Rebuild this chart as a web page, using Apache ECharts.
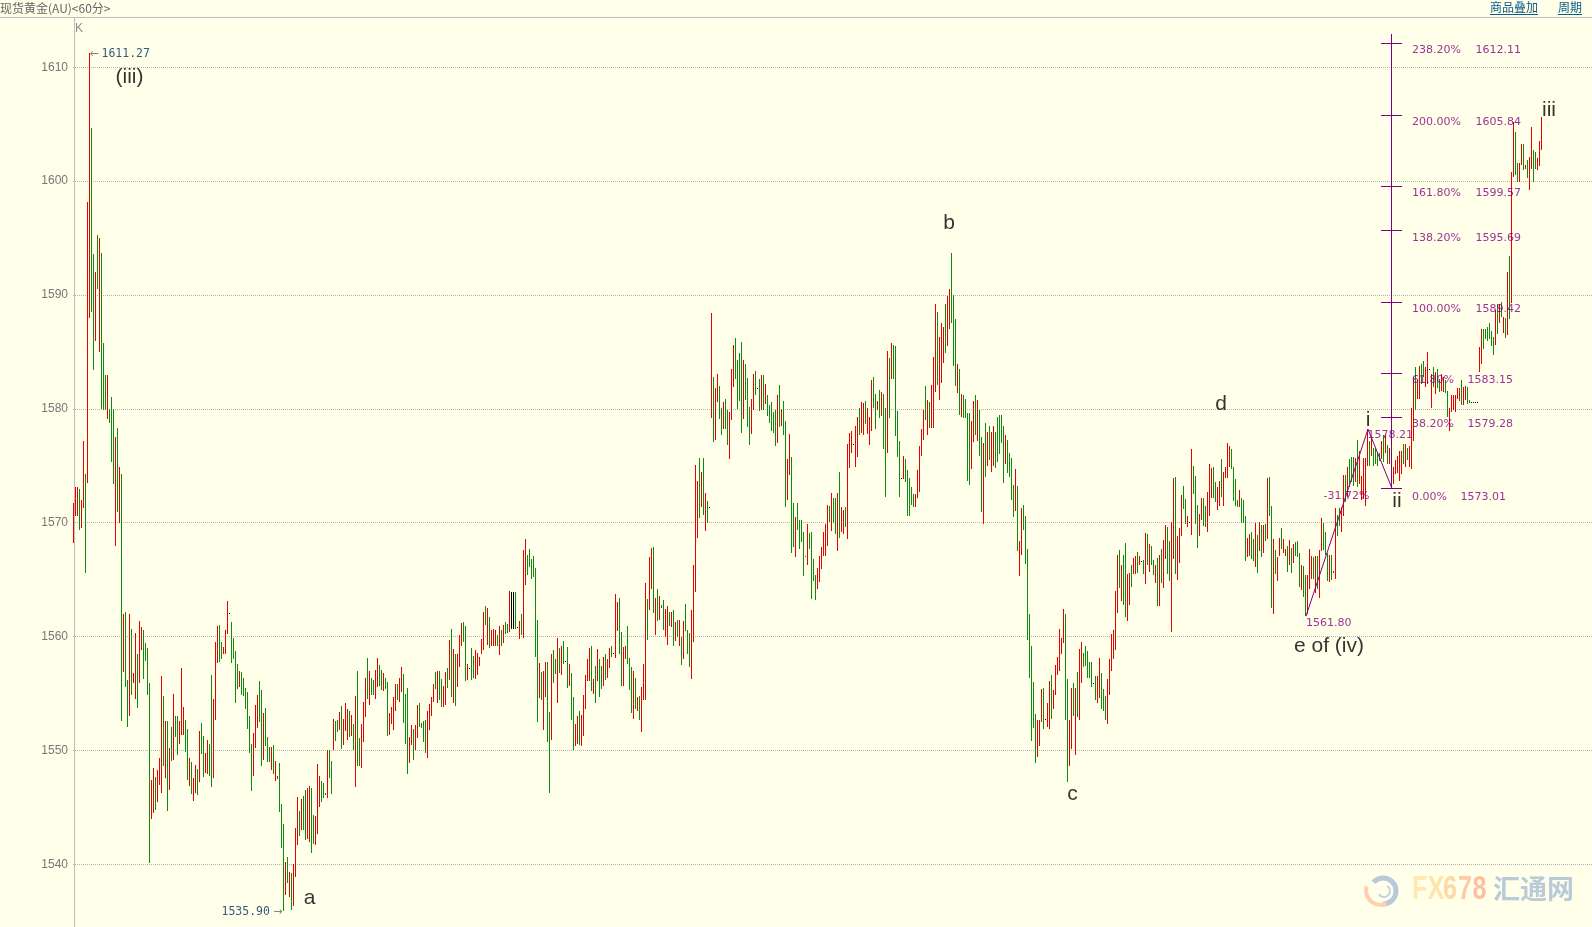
<!DOCTYPE html>
<html><head><meta charset="utf-8">
<style>html,body{margin:0;padding:0;background:#FFFFEA;overflow:hidden}#c{width:1592px;height:927px}</style>
<script src="https://cdn.jsdelivr.net/npm/echarts@6/dist/echarts.min.js"></script>
</head><body><div id="c"></div>
<script>
const highs=[
1571.7,1573.1,1573.1,1573,1572,1577.2,1574.3,1598.2,1611.27,1604.7,
1593.6,1592,1595.3,1595,1593.7,1585.8,1583,1583,1580,1581,
1580,1577.5,1578.3,1574.9,1574.3,1562,1562.2,1556.2,1562,1560.7,
1556.8,1560.3,1558.5,1561.4,1560.8,1560.6,1559.4,1559,1555.9,1547.4,
1548.5,1547.7,1548.3,1549.3,1556.5,1554.8,1552.6,1552.6,1550.2,1552.1,
1555,1553,1553,1552.6,1557.2,1553.8,1552.7,1551.9,1549.3,1549,
1547.6,1548.7,1548.4,1551.7,1552.4,1551.3,1549.8,1550.9,1550.6,1556.6,
1554.5,1559.5,1560.9,1561,1559.5,1559.1,1560.6,1563.1,1562.1,1561.3,
1559.9,1558.7,1557.6,1557,1556.9,1556.4,1555.5,1555.1,1553,1550.6,
1551.5,1554,1554.9,1556.1,1555.3,1553.3,1553.7,1551.2,1550.3,1550.3,
1550.5,1549.1,1547.8,1548.9,1545.3,1543.5,1540.2,1540.6,1539.3,1539.2,
1540,1543.2,1545.9,1544.7,1545.7,1546,1546.5,1546.7,1546.9,1546.7,
1544.3,1544.2,1548.8,1547.8,1547.3,1547.1,1546.3,1550,1550,1549.1,
1552.8,1552.6,1552.7,1553.4,1553.9,1552.8,1554.2,1553.6,1553.5,1553.1,
1552.3,1554.8,1557,1551.1,1552.3,1554.3,1556.4,1558.1,1557,1556.4,
1556.2,1557.1,1558.1,1557.5,1557.1,1556.8,1556.4,1556,1553.3,1553.8,
1554.7,1555.8,1555.8,1556.4,1557.3,1556.7,1555,1555.5,1551.2,1552.2,
1551.9,1552.2,1554,1554.2,1552.4,1552.6,1552.7,1553.5,1554.1,1554.7,
1555.8,1556.9,1557,1557,1556.3,1555.7,1556.9,1557.2,1559.7,1560.7,
1558.9,1558.5,1558.5,1560.1,1561.2,1561.3,1560.9,1557.6,1557.2,1559,
1558.3,1558.8,1558.6,1558.2,1559.8,1562.2,1562.7,1562.5,1561.7,1560.6,
1560.7,1560.6,1560.1,1560.9,1560.6,1561,1561.3,1561.1,1564,1563.9,
1563.9,1563.9,1560.8,1561.4,1562,1567.6,1568.6,1567.2,1567.7,1566.8,
1567.1,1566,1561.5,1557.7,1556.9,1557,1557.8,1557.8,1553.4,1558.5,
1558.8,1558,1559.9,1559,1559.2,1559.6,1557.9,1559.1,1557.6,1556.8,
1554.7,1552.3,1553,1553.5,1553.1,1554.9,1556.6,1558,1559,1559.2,
1556.3,1557.4,1558.9,1558,1557.4,1558.2,1558.5,1558,1559,1559.2,
1558.6,1563.7,1563,1563.4,1560.4,1559.1,1559.2,1560.9,1558.1,1557.3,
1557,1556.4,1554.7,1554.8,1555.6,1557.6,1564.7,1563.3,1567,1567.8,
1567.9,1563.4,1564.2,1563.6,1562.8,1563.2,1562.4,1562.7,1562.2,1562.2,
1562.3,1561.3,1561.5,1561.5,1560,1561.4,1562.9,1560.6,1560.3,1562.3,
1566.3,1575.1,1573.7,1575.7,1574.5,1575.7,1572.6,1571.9,1571.4,1588.4,
1582.8,1581.8,1583.1,1582,1580.1,1580.6,1580.9,1579.9,1579.7,1583.5,
1585.6,1586.2,1584.3,1584.9,1585.9,1584.3,1583.9,1582.7,1580.2,1580.9,
1583.1,1583.3,1581.8,1582.6,1583,1583,1582.2,1581.2,1580.3,1580.6,
1579.7,1579.9,1581.2,1582.1,1580,1580.7,1578.9,1575.6,1577.8,1575.8,
1571.7,1570.5,1571.7,1570.2,1570.2,1569.2,1567.1,1569.9,1569.1,1569.2,
1566.8,1565.4,1566,1567.1,1567.9,1569.2,1569.9,1571.6,1571.5,1572.6,
1572.2,1572.2,1572.6,1574.5,1571.4,1571.1,1571.4,1576.9,1577.9,1578.1,
1576.9,1578.5,1579.3,1580.1,1580.6,1580.5,1580.7,1580.1,1579.3,1582.5,
1582.8,1581.3,1580.7,1581.7,1581.5,1581.3,1580.1,1585.1,1584.5,1585.8,
1585.6,1585.5,1579.8,1577.2,1573.9,1575.9,1575.6,1574.6,1573.9,1573.1,
1572.5,1572.5,1574.6,1576.7,1578.2,1579.9,1582,1580.8,1580.6,1582.1,
1584.6,1589.2,1588.5,1586.3,1587.5,1587.2,1589.2,1589.9,1590.5,1593.7,
1590,1587.9,1583.9,1583.5,1581.3,1581.2,1580.9,1579.6,1579.6,1578.9,
1580.7,1581.2,1580.8,1579.9,1577.5,1577,1578.8,1578,1578.5,1578,
1578.5,1578,1579.3,1579.5,1579.5,1578.5,1577.7,1577.3,1576.1,1575.7,
1573.3,1574.7,1573.2,1568.4,1571.3,1571.6,1570.6,1567.7,1562,1559.2,
1556,1553.2,1552.7,1552.7,1555.4,1555.5,1552.8,1554.2,1556.1,1556.6,
1555.3,1557.5,1558.2,1560.7,1559.9,1562.4,1562,1556.3,1552.7,1555.5,
1555.9,1555.5,1556.9,1558.9,1559.5,1558.6,1559.2,1558.7,1557.8,1557.8,
1555.9,1556.5,1556.5,1558.1,1556.8,1555.4,1554.8,1556.3,1558,1560.2,
1560.6,1564,1567.2,1567.6,1566.3,1567.2,1568.2,1565.5,1565.6,1566.3,
1566.9,1567.1,1567.4,1567.1,1566.6,1566.7,1569.1,1569,1568.1,1568,
1566.7,1566.3,1566.9,1567.2,1567.7,1568.5,1569.8,1569.6,1568.4,1570.1,
1573.9,1574,1568.8,1569.5,1572.4,1573.2,1572.1,1570.6,1570.1,1576.5,
1575,1574.1,1571.6,1570.8,1572.2,1572.2,1571.5,1572.7,1575.2,1574.8,
1574.9,1573.6,1573.1,1573.7,1575.6,1574.5,1574.9,1577,1576.7,1576.5,
1574.9,1573.8,1572,1572.9,1572.2,1572,1570.6,1568.7,1569,1569.2,
1568.6,1570,1568.9,1570.1,1569.8,1569.8,1569.9,1573.9,1574,1571.5,
1568.6,1567.6,1567,1568.7,1569.5,1568.6,1567.7,1568,1568.5,1567.8,
1568.1,1568.3,1568.4,1567.3,1566.3,1566.2,1565.4,1565.4,1567.7,1567.1,
1567,1567.1,1567.1,1567.6,1570.4,1570,1569.2,1567.3,1567.2,1567.2,
1565.8,1571.3,1570.7,1571.3,1571.4,1574.2,1574.2,1574.9,1575.6,1575.8,
1575.8,1575.7,1577.3,1576.3,1574.1,1575.7,1575.7,1578.2,1577.2,1577.5,
1576.6,1576.6,1576.2,1576.1,1577.2,1577.7,1577.7,1576.8,1576.6,1574.4,
1574.9,1575.5,1575.9,1576.3,1576.3,1576.9,1576.9,1576.6,1576.7,1580.1,
1582.8,1583.7,1582.5,1583.8,1583.9,1584.2,1583.7,1585,1583.5,1583.1,
1583.7,1583.2,1583.5,1582.6,1583.1,1582.8,1582.5,1581.6,1580.1,1581.2,
1581.2,1581.2,1581.8,1581.8,1582.5,1581.9,1582,1581.9,1580.8,1580.6,
1580.6,1580.6,1580.6,1585.4,1587,1587,1587,1587.2,1587.5,1586.8,
1586.3,1588.7,1589.2,1589.2,1589.4,1588.1,1588,1592,1593.4,1600.8,
1605.2,1604.3,1601.6,1601.6,1603.3,1603.3,1601.4,1601.9,1602.1,1604.8,
1602.7,1602.6,1602,1603.5,1605.6];
const lows=[
1568.2,1570.6,1570.6,1569.4,1569.5,1571.3,1565.6,1573.5,1588,1588.5,
1583.4,1586,1590.5,1585,1580,1579.9,1579.9,1579.1,1578.8,1575.3,
1573.4,1568,1570.9,1570,1552.6,1556.9,1555.6,1552.1,1553,1554.9,
1555.9,1554.5,1553.7,1555.9,1558.8,1556.3,1557.9,1554.9,1540.1,1544,
1544.5,1544.8,1545.5,1547,1546.3,1548.6,1547.6,1544.7,1546.5,1549.1,
1549.2,1551.2,1549.6,1550.6,1551.4,1551.4,1549.9,1547.4,1546.9,1546.2,
1545.6,1546.3,1546.1,1547.2,1549.7,1547.7,1548,1547.9,1547.8,1546.8,
1547.6,1552.7,1557.7,1557.8,1558,1558.5,1558.5,1560.2,1562.1,1557.7,
1558,1554.2,1555.4,1555.6,1554.9,1554.8,1553.6,1551.9,1549.8,1546.4,
1547.8,1550.2,1552,1552.5,1548.6,1549.2,1550.4,1549,1549,1548.3,
1547.9,1547.3,1547.5,1544.6,1541.4,1535.9,1537.3,1538.4,1537.1,1536,
1536.3,1538.9,1541.7,1542.5,1543,1543,1542.1,1542.2,1542,1541,
1541.8,1541.7,1542.7,1545,1545.5,1545.8,1546.1,1545.8,1547.6,1546.2,
1550,1550.8,1551.6,1551.8,1550.1,1550.5,1551.7,1550.9,1551.2,1551.3,
1550,1546.8,1548.6,1548.6,1548.5,1550.7,1552.9,1554.5,1554,1554.9,
1554.9,1554.5,1555.6,1555.7,1555.3,1555.2,1555.4,1551.3,1551.4,1552.3,
1551.8,1553.5,1554.4,1554.3,1555.1,1552.4,1550.6,1547.9,1548.9,1550.5,
1549.2,1550,1551.1,1552.1,1552,1550.7,1549.8,1549.3,1551.8,1553,
1554.3,1555.4,1554.2,1554.4,1553.8,1553.8,1554,1555.5,1556.2,1554.7,
1554.2,1553.9,1555.6,1557.3,1559.2,1559.5,1556.1,1556.2,1557.2,1556.2,
1556.4,1556.3,1556.6,1557.4,1558.5,1558.8,1561,1559.3,1559,1559.2,
1559.2,1559.2,1559.2,1558.4,1559.2,1559.4,1560.2,1560.3,1560.4,1560.7,
1560.7,1560.7,1560.8,1559.8,1560.1,1559.9,1564.5,1565.4,1566.1,1565.1,
1565.2,1558.2,1552.5,1554.6,1554.4,1551.8,1554.7,1550.7,1546.3,1550.9,
1555.9,1556.7,1554.2,1556.8,1556.6,1557.6,1557.9,1555.5,1555.7,1552.7,
1550,1550.4,1550.6,1550.5,1550.4,1551.3,1553.6,1556.1,1556.1,1555.2,
1555,1554.2,1556.1,1554.7,1555.4,1555.7,1556.2,1556.4,1557.2,1558.2,
1558.6,1558.1,1560.5,1558.5,1555.7,1555.7,1558,1557.6,1555.3,1553.3,
1552.8,1553.6,1553.5,1552.7,1551.6,1554.4,1554.4,1559.7,1562.3,1564.2,
1562.1,1560.1,1561.4,1561.5,1562.5,1560.6,1560,1559.3,1560.9,1560.8,
1559.2,1559.6,1560,1559.2,1557.5,1558,1560.5,1558.5,1557.3,1556.3,
1559.5,1563.9,1568.7,1570.4,1571.4,1570.7,1569.3,1570,1571.4,1579.2,
1577.1,1577.3,1580.6,1579.1,1577.7,1578.2,1578.2,1576.8,1575.6,1579,
1581.9,1582.6,1580,1580.7,1577.9,1579.1,1580.8,1578.4,1576.8,1577.8,
1579.9,1581.2,1581.8,1579.8,1579.9,1579.9,1580.4,1579.4,1578.8,1578.1,
1577.9,1576.7,1577,1578.4,1578.5,1577.7,1571.4,1572,1574.2,1567.3,
1567.9,1567,1569.4,1567.7,1568.3,1565.3,1567,1566.3,1567.7,1563.3,
1564.9,1563.2,1564.2,1564.8,1565.9,1567.1,1567.1,1568,1570.1,1569.3,
1570,1569,1567.5,1568.7,1569.2,1569,1569.6,1568.6,1574.8,1576.1,
1576.9,1574.9,1575.8,1577.7,1577.9,1577.7,1578.7,1577.8,1576.8,1578.1,
1580.1,1578.2,1579.9,1579.2,1579.4,1576.5,1572.3,1576.1,1579.2,1582.6,
1582.6,1577.6,1575.8,1572.3,1573.9,1573.8,1573.6,1570.6,1570.6,1571.6,
1571.4,1571.4,1572.2,1572.7,1575.9,1577.3,1579,1577.7,1578.3,1578.3,
1578.3,1581.5,1582.1,1580.8,1582.3,1584,1584.9,1585.5,1587,1587.5,
1583.8,1582,1581.4,1579.5,1579.3,1579.2,1579.2,1573.7,1573.3,1574.7,
1577.1,1577.7,1577.2,1575.9,1570.9,1569.9,1574,1575,1575.5,1574.5,
1575,1574.8,1575.3,1576,1577,1573.5,1575.2,1574.4,1574,1572,
1570.5,1571,1567.5,1565.3,1567.2,1569.4,1566.4,1559.7,1556.4,1550.8,
1552,1548.9,1549.4,1550.4,1552.5,1551.9,1552.8,1552.1,1551.9,1552.8,
1553.6,1554.9,1556.6,1557,1558.5,1559.4,1552.7,1547.2,1548.6,1550.1,
1553,1549.6,1552.9,1552.7,1555.9,1557.3,1557.4,1556.4,1556.4,1555.6,
1555.9,1554.4,1554.2,1554.6,1553.6,1553.5,1552.7,1552.3,1554.9,1557,
1558,1558.8,1562.1,1564.3,1563.1,1562.8,1561.7,1561.4,1562.8,1564.4,
1565.5,1565.5,1565.6,1566.3,1566.6,1565.5,1564.6,1566.3,1565.7,1566.3,
1565.4,1564.7,1562.7,1562.7,1564.7,1564.3,1566.8,1565.5,1564.9,1560.4,
1566.8,1565.5,1565,1566.5,1568.8,1571.2,1569.9,1569.6,1570.1,1568.9,
1572.5,1569.9,1567.8,1568.8,1570.2,1569.7,1569.6,1569.2,1570.6,1572.2,
1572.2,1571.8,1571.1,1571.5,1572.3,1571.5,1573.9,1573.9,1574.9,1574.7,
1571.9,1571.5,1571.4,1571.4,1570,1570,1566.6,1567,1567.1,1566.8,
1566.6,1566.1,1565.6,1567.5,1567,1567.3,1568.4,1568.6,1570.6,1562.5,
1562,1565.5,1564.9,1567.1,1567.7,1567.3,1567.1,1565.7,1566.3,1565.6,
1566.5,1567.1,1567,1564.4,1564.1,1563.5,1561.8,1562,1564.2,1565.1,
1565.1,1563.8,1564.2,1563.4,1567.5,1567.6,1567.2,1564.9,1564.8,1565,
1565.6,1565.1,1568.8,1569.7,1569.2,1570.6,1571.8,1572.3,1573.1,1573.6,
1573.2,1573.6,1573.1,1573.4,1572,1572.1,1571.5,1575,1575,1575.9,
1575,1575.2,1575,1575.4,1575.6,1575.3,1576.1,1575.2,1575.2,1573,
1573.4,1574.3,1574.4,1573.7,1574.3,1575.2,1574.9,1575.5,1574.9,1574.7,
1577.2,1579.9,1580.9,1580.9,1582.2,1582.8,1581.9,1582.2,1583.5,1580.1,
1581.9,1581.3,1581.8,1581.5,1581.6,1581.5,1581.4,1579.3,1578.1,1579.7,
1579.9,1579.7,1580.9,1580.7,1580.3,1580.3,1580.8,1580.4,1580.5,1580.6,
1580.6,1580.6,1580.6,1583.2,1583.9,1585.3,1586.1,1586,1586.1,1585.5,
1584.7,1585.6,1586.6,1587.5,1588.1,1586.7,1586.2,1586.5,1587.9,1589.3,
1600.4,1600.5,1599.9,1599.9,1601.4,1601,1601.1,1600.3,1599.2,1601.1,
1599.9,1601.1,1601,1601.3,1602.7];
// r = up (red), g = down (green), k = doji (black)
const dirs=(
"rrrgrrgrrg"+"grgrgggrgg"+"grgrgrggrg"+"rrgrrggggr"+"rgrrrgrgrg"+"rggrrrggrg"+"rrgrggrrgg"+"rrrggrrrkg"+
"gggrgggggg"+"rrrggrgggr"+"grrgggrgrg"+"rrrgrggrrg"+"grrrgggrgg"+"rggrgrrrgr"+"grggrrrgrg"+"grrggrggrr"+
"rrgrrgggrr"+"grrggggrrr"+"rgrggrrgrg"+"rgrrrggrkg"+"grrrrrgrgr"+"rrgrgrggrk"+"kgkrgrrggg"+"gggrgrrggr"+
"ggrgrgkgrg"+"grrgrrrrrg"+"rgrggrgrrg"+"krrggrrggg"+"rgrgrrrgrr"+"grgrggrrgr"+"grgrgrgggr"+"rrrgrgrgkr"+
"grrggrggrr"+"rggggrgggr"+"rgkgrgrggg"+"ggrgrggrrg"+"grgggggrgg"+"ggrrrrrrgr"+"ggrgrrgrrr"+"krrgrrgrrr"+
"ggrgrggrgr"+"ggggkrgggg"+"grrrrrgrgr"+"rrgrrrgrrg"+"ggrgrggggr"+"rgrggrgrgr"+"rgggggrggg"+"grgrrggggg"+
"ggrrrgkrrg"+"rrrrrrggrr"+"grgrrggggg"+"kgrrgggrrr"+"rrrgrggrrg"+"rrgrkgrgrg"+"grgrgrrggr"+"rgrrrggrkr"+
"gggrrggrrr"+"ggrrgrrrrg"+"gggrgggrrg"+"grgrgrgrgg"+"rgrrgrrgrg"+"rgggrggrrr"+"grgrrgggrg"+"rrggrrgrgg"+
"grgrrrrrgr"+"ggggrgrgrg"+"rrrrrgrgrr"+"rgrrggrrkr"+"grggrrggrr"+"rrrrgrrggk"+"kkkrrggggg"+"grgrgrgrgr"+
"rggrrgrgrr"+"ggrrr").split("");

const yRange=[1530,1620];
const fibPct=["238.20%","200.00%","161.80%","138.20%","100.00%","61.80%","38.20%","0.00%"];
const fibPrice=[1612.11,1605.84,1599.57,1595.69,1589.42,1583.15,1579.28,1573.01];
const fibValueBar=[700.5,700.5,700.5,700.5,700.5,696.5,696.5,693];
const fibLabelDrop=[7,7,7,8,8,7,7,9];
const fibBar=659, fibLabelBar=668.7;
const swing=[[616,1561.80],[647,1578.21],[659,1573.01]];
const swingNotes=[[646.5,1577.7,"1578.21"],[624.5,1572.37,"-31.72%"],[615.8,1561.15,"1561.80"]];
const waves=[[27.75,1609.1,"(iii)"],[117.75,1537.04,"a"],[437.5,1596.3,"b"],[499.25,1546.2,"c"],[573.5,1580.4,"d"],[627.5,1559.2,"e of (iv)"],[647,1579,"i"],[661.5,1571.9,"ii"],[737.5,1606.2,"iii"]];

const bg='#FFFFEA', PUR='#800080';
const barColors=['#E60000','#0E8A0E','#000000'];
const bars=highs.map((h,i)=>[i,h,lows[i],dirs[i]==='r'?0:dirs[i]==='g'?1:2]);
const fibSegs=fibPrice.map(p=>[fibBar-5,p,fibBar+5,p]);

function textSeries(data,label){
  return {type:'scatter',data:data,symbolSize:1,silent:true,itemStyle:{color:'transparent'},z:6,
    label:Object.assign({show:true,formatter:p=>p.value[2]},label)};
}
const purple={fontFamily:'DejaVu Sans',fontSize:11,color:PUR,position:'right',distance:0};
const dropLabel=(d,i)=>({value:d,label:{offset:[0,fibLabelDrop[i]]}});

const fxChars=[['F','#FFE9AE'],['X','#FFE5AC'],['6','#FFD8A8'],['7','#FFCBA5'],['8','#FFC0A2']];
const fxWidths=[0,15.4,31,46,60.5];

const chart=echarts.init(document.getElementById('c'),null,{renderer:'canvas'});
chart.setOption({
  animation:false,
  backgroundColor:bg,
  grid:{left:73,top:-46.56,width:1520,height:1024.74,containLabel:false,outerBoundsMode:'none'},
  xAxis:{type:'value',min:-0.5,max:759.5,show:false},
  yAxis:{type:'value',min:yRange[0],max:yRange[1],interval:10,
    axisLine:{show:true,lineStyle:{color:'#BDBDBD',width:1}},
    axisTick:{show:false},
    axisLabel:{color:'#777777',fontFamily:'Liberation Sans',fontSize:12,margin:5,formatter:v=>String(v)},
    splitLine:{show:true,lineStyle:{color:'#B4B4B4',width:1,type:[1,1]}}},
  series:[
    {type:'custom',name:'bars',data:bars,clip:false,z:3,silent:true,
     encode:{x:0,y:[1,2]},
     renderItem:(params,api)=>{
       const t=api.coord([api.value(0),api.value(1)]),b=api.coord([api.value(0),api.value(2)]);
       const y0=Math.round(t[1]),y1=Math.round(b[1]);
       return {type:'rect',shape:{x:Math.round(t[0])-1,y:y0,width:1,height:Math.max(1,y1-y0)},
               style:{fill:barColors[api.value(3)]}};
     }},
    {type:'line',name:'swing',data:swing,showSymbol:false,symbol:'none',silent:true,z:4,
     lineStyle:{color:PUR,width:1}},
    {type:'custom',name:'fibStem',data:[[fibBar,1612.9,fibPrice[7]]],z:4,silent:true,encode:{x:0,y:[1,2]},
     renderItem:(params,api)=>{
       const a=api.coord([api.value(0),api.value(1)]),b=api.coord([api.value(0),api.value(2)]);
       return {type:'rect',shape:{x:Math.round(a[0])-1,y:Math.round(a[1]),width:1,height:b[1]-a[1]},style:{fill:PUR}};
     }},
    {type:'custom',name:'fibTicks',data:fibSegs,z:4,silent:true,encode:{x:[0,2],y:[1,3]},
     renderItem:(params,api)=>{
       const a=api.coord([api.value(0),api.value(1)]),b=api.coord([api.value(2),api.value(3)]);
       const y=Math.round(a[1]);
       return {type:'rect',shape:{x:Math.round(a[0])-1,y:y,width:Math.round(b[0]-a[0])+1,height:1},style:{fill:PUR}};
     }},
    textSeries(fibPct.map((t,i)=>dropLabel([fibLabelBar,fibPrice[i],t],i)),purple),
    textSeries(fibPrice.map((p,i)=>dropLabel([fibValueBar[i],p,p.toFixed(2)],i)),purple),
    textSeries(swingNotes,purple),
    textSeries(waves,{position:'inside',fontFamily:'Liberation Sans',fontSize:21,color:'#000000'}),
    textSeries([[7.5,highs[8],'1611.27']],{position:'right',distance:0,offset:[0,1],
      formatter:p=>'{a|←}{t|'+p.value[2]+'}',
      rich:{a:{color:'#666666',fontFamily:'DejaVu Sans',fontSize:11,width:12},t:{color:'#002A5C',fontFamily:'DejaVu Sans Mono',fontSize:11.5}}}),
    textSeries([[105,lows[105],'1535.90']],{position:'left',distance:0,offset:[-1,1],
      formatter:p=>'{t|'+p.value[2]+'} {a|→}',
      rich:{a:{color:'#666666',fontFamily:'DejaVu Sans',fontSize:11},t:{color:'#002A5C',fontFamily:'DejaVu Sans Mono',fontSize:11.5}}})
  ],
  graphic:[
    {type:'rect',z:50,shape:{x:0,y:0,width:1592,height:17},style:{fill:bg}},
    {type:'rect',z:51,shape:{x:0,y:17,width:1592,height:1},style:{fill:'#BDBDBD'}},
    {type:'text',z:52,x:0,y:2,style:{text:'现货黄金(AU)<60分>',fontFamily:'Noto Sans CJK SC',fontSize:12,fill:'#666666'}},
    {type:'text',z:52,x:1490,y:1,style:{text:'商品叠加',fontFamily:'Noto Sans CJK SC',fontSize:12,fill:'#0A5A8A'}},
    {type:'rect',z:52,shape:{x:1490,y:14,width:48,height:1},style:{fill:'#0A5A8A'}},
    {type:'text',z:52,x:1558,y:1,style:{text:'周期',fontFamily:'Noto Sans CJK SC',fontSize:12,fill:'#0A5A8A'}},
    {type:'rect',z:52,shape:{x:1558,y:14,width:24,height:1},style:{fill:'#0A5A8A'}},
    {type:'text',z:52,x:75,y:23,style:{text:'K',fontFamily:'Liberation Sans',fontSize:12,fill:'#8A8A8A'}},
    {type:'arc',z:1,silent:true,shape:{cx:1383,cy:891,r:13,startAngle:-2.4,endAngle:1.6},style:{stroke:'#B9C8DB',fill:null,lineWidth:5}},
    {type:'arc',z:1,silent:true,shape:{cx:1381,cy:890,r:15,startAngle:1.2,endAngle:3.4},style:{stroke:'#FFCFAE',fill:null,lineWidth:4}},
    {type:'arc',z:1,silent:true,shape:{cx:1384,cy:891,r:6,startAngle:-1,endAngle:2.6},style:{stroke:'#C5D2E0',fill:null,lineWidth:2}}
  ].concat(fxChars.map((c,i)=>({type:'text',z:1,silent:true,x:1412+fxWidths[i],y:873,scaleX:0.74,
      style:{text:c[0],fontFamily:'Liberation Sans',fontWeight:'bold',fontSize:34,fill:c[1]}})))
  .concat([{type:'text',z:1,silent:true,x:1493,y:875,style:{text:'汇通网',fontFamily:'Noto Sans CJK SC',fontWeight:'bold',fontSize:27,fill:'#B9CAD9'}}])
});
</script>
</body></html>
